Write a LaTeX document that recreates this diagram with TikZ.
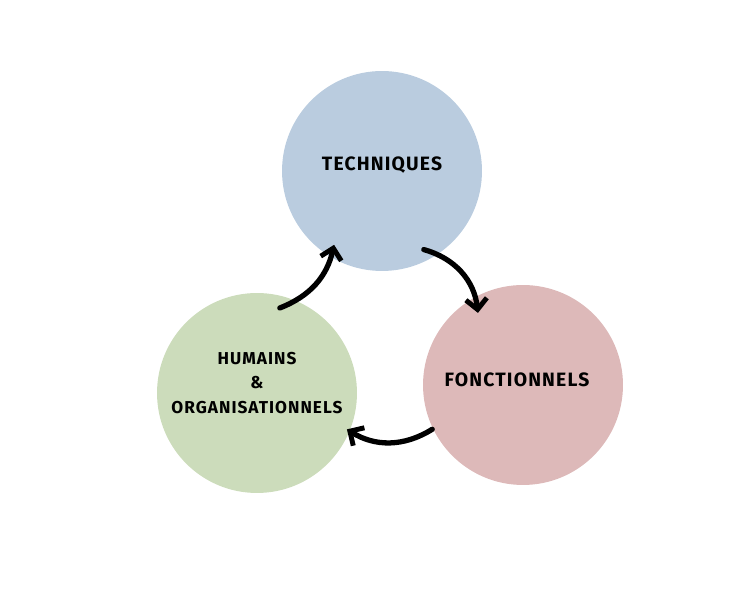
\documentclass[tikz,border=0pt]{standalone}
\usepackage{fontspec}
\setmainfont{Fira Sans}[LetterSpace=6]
\usetikzlibrary{arrows.meta,calc}

\definecolor{techblue}{HTML}{BACCDF}
\definecolor{fonctpink}{HTML}{DDB9B9}
\definecolor{humgreen}{HTML}{CCDCBB}

\tikzset{
    bubble/.style={circle, minimum size=4cm, inner sep=0pt},
    caption/.style={font=\fontsize{11}{14.5}\selectfont\bfseries, align=center},
    cycle/.style={-{Straight Barb[length=6pt,width=12pt,line width=2.8pt]}, line width=3pt, line cap=round},
}

\begin{document}
\begin{tikzpicture}[x=0.02cm, y=0.02cm]
    \useasboundingbox (0,0) rectangle (748,602);

    % the three circles
    \node[bubble, fill=techblue]  (tech)  at (382,431) {};
    \node[bubble, fill=fonctpink] (fonct) at (523,217) {};
    \node[bubble, fill=humgreen]  (hum)   at (257,209) {};

    \node[caption] (techtext)  at ($(tech)+(0,6)$)   {TECHNIQUES};
    \node[caption] (fonctext)  at ($(fonct)+(-6,5)$) {FONCTIONNELS};
    \node[caption, font=\fontsize{9.8}{14.5}\selectfont\bfseries] (humtext) at ($(hum)+(0,10)$)
        {HUMAINS\\[-0.5pt]\&\\[-0.5pt]ORGANISATIONNELS};

    % end points of the arrows, just inside the circles
    \coordinate (humout)   at ($(hum)+(75:88)$);
    \coordinate (techin)   at ($(tech)+(237:88)$);
    \coordinate (techout)  at ($(tech)+(-62:89)$);
    \coordinate (fonctin)  at ($(fonct)+(122:85)$);
    \coordinate (fonctout) at ($(fonct)+(206:101)$);
    \coordinate (humin)    at ($(hum)+(-22:97)$);

    \draw[cycle] (humout) to[bend right=28] (techin);
    \draw[cycle] (techout) to[bend left=34] (fonctin);
    \draw[cycle] (fonctout) to[bend left=32] (humin);
\end{tikzpicture}
\end{document}
